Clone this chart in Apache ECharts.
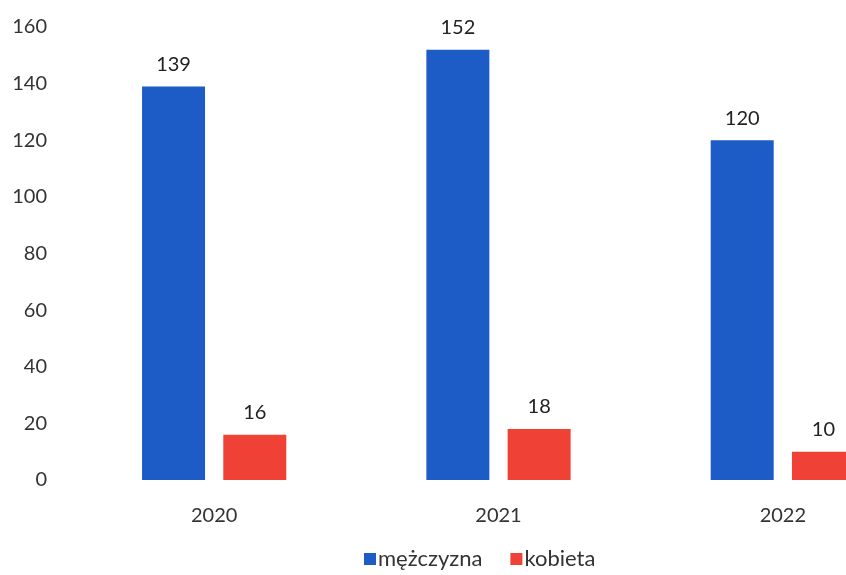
<!DOCTYPE html>
<html><head><meta charset="utf-8">
<script src="https://cdn.jsdelivr.net/npm/echarts@6/dist/echarts.min.js"></script>
<style>html,body{margin:0;padding:0;background:#fff;overflow:hidden;width:846px;height:575px}#c{width:930px;height:575px}</style>
</head><body><div id="c"></div>
<script>
const categories = ['2020', '2021', '2022'];
const men = [139, 152, 120];
const women = [16, 18, 10];
const seriesNames = ['mężczyzna', 'kobieta'];
const yTicks = [0, 20, 40, 60, 80, 100, 120, 140, 160];

const font = 'Lato, "Open Sans", sans-serif';
const chart = echarts.init(document.getElementById('c'), null, {renderer: 'canvas'});
chart.setOption({
  backgroundColor: '#fff',
  animation: false,
  grid: {left: 72, top: 27, width: 853, bottom: 95, containLabel: false},
  legend: {
    bottom: 0, left: 359, itemWidth: 12, itemHeight: 12, itemGap: 28,
    icon: 'rect',
    textStyle: {fontFamily: font, fontSize: 22, color: '#333', padding: [0, 0, 0, -3]},
    data: seriesNames
  },
  xAxis: {
    type: 'category', data: categories,
    axisLine: {show: false}, axisTick: {show: false},
    axisLabel: {fontFamily: font, fontSize: 20, color: '#333', margin: 26}
  },
  yAxis: {
    type: 'value', min: yTicks[0], max: yTicks[yTicks.length - 1], interval: 20,
    splitLine: {show: false}, axisLine: {show: false}, axisTick: {show: false},
    axisLabel: {fontFamily: font, fontSize: 20, color: '#333', margin: 25}
  },
  series: [
    {name: seriesNames[0], type: 'bar', data: men, barWidth: 63, barGap: '29%',
     itemStyle: {color: '#1d5bc7'},
     label: {show: true, position: 'top', distance: 12, fontFamily: font, fontSize: 20, color: '#222'}},
    {name: seriesNames[1], type: 'bar', data: women, barWidth: 63,
     itemStyle: {color: '#ef4136'},
     label: {show: true, position: 'top', distance: 12, fontFamily: font, fontSize: 20, color: '#222'}}
  ]
});
</script></body></html>
